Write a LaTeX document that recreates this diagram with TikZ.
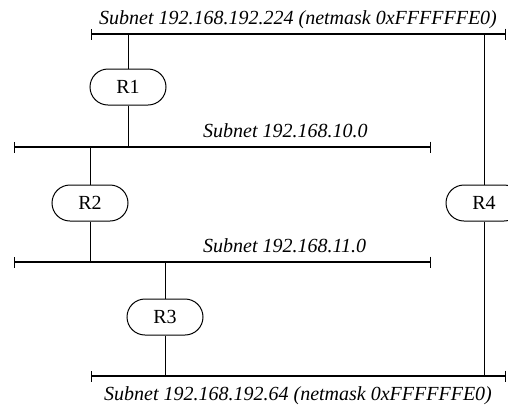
\documentclass[tikz,border=0pt]{standalone}
\usepackage{fontspec}
\setmainfont{Liberation Serif}
\usetikzlibrary{arrows.meta,shapes.misc}

\begin{document}
\begin{tikzpicture}[x=1pt, y=-1pt,
  router/.style={draw, line width=1pt, rounded rectangle, minimum width=76pt, minimum height=36pt, inner sep=0pt, font=\fontsize{20}{22}\selectfont},
  subnet/.style={font=\fontsize{20}{22}\selectfont\itshape, inner sep=0pt},
  bus/.style={line width=1.8pt, {Bar[width=11pt,line width=1pt]}-{Bar[width=11pt,line width=1pt]}, shorten <=-0.5pt, shorten >=-0.5pt},
  link/.style={line width=1pt}
]
\clip (0,0) rectangle (508,408);
\useasboundingbox (0,0) rectangle (508,408);

% subnets
\coordinate (topL) at (91,34);  \coordinate (topR) at (505,34);
\coordinate (tenL) at (14,147); \coordinate (tenR) at (430,147);
\coordinate (elvL) at (14,262); \coordinate (elvR) at (430,262);
\coordinate (botL) at (91,376); \coordinate (botR) at (505,376);

\draw[bus] (topL) -- (topR);
\draw[bus] (tenL) -- (tenR);
\draw[bus] (elvL) -- (elvR);
\draw[bus] (botL) -- (botR);

\node[subnet, anchor=base] (lbltop) at (298,24) {Subnet 192.168.192.224 (netmask 0xFFFFFFE0)};
\node[subnet, anchor=base west] (lblten) at (203,137) {Subnet 192.168.10.0};
\node[subnet, anchor=base west] (lblelv) at (203,252) {Subnet 192.168.11.0};
\node[subnet, anchor=base] (lblbot) at (298,400) {Subnet 192.168.192.64 (netmask 0xFFFFFFE0)};

% routers
\node[router] (r1) at (128,87) {R1};
\node[router] (r2) at (90,203) {R2};
\node[router] (r3) at (165,317) {R3};
\node[router] (r4) at (484,203) {R4};

\draw[link] (r1.north) -- (r1.north |- topL);
\draw[link] (r1.south) -- (r1.south |- tenL);
\draw[link] (r2.north) -- (r2.north |- tenL);
\draw[link] (r2.south) -- (r2.south |- elvL);
\draw[link] (r3.north) -- (r3.north |- elvL);
\draw[link] (r3.south) -- (r3.south |- botL);
\draw[link] (r4.north) -- (r4.north |- topL);
\draw[link] (r4.south) -- (r4.south |- botL);

\end{tikzpicture}
\end{document}
